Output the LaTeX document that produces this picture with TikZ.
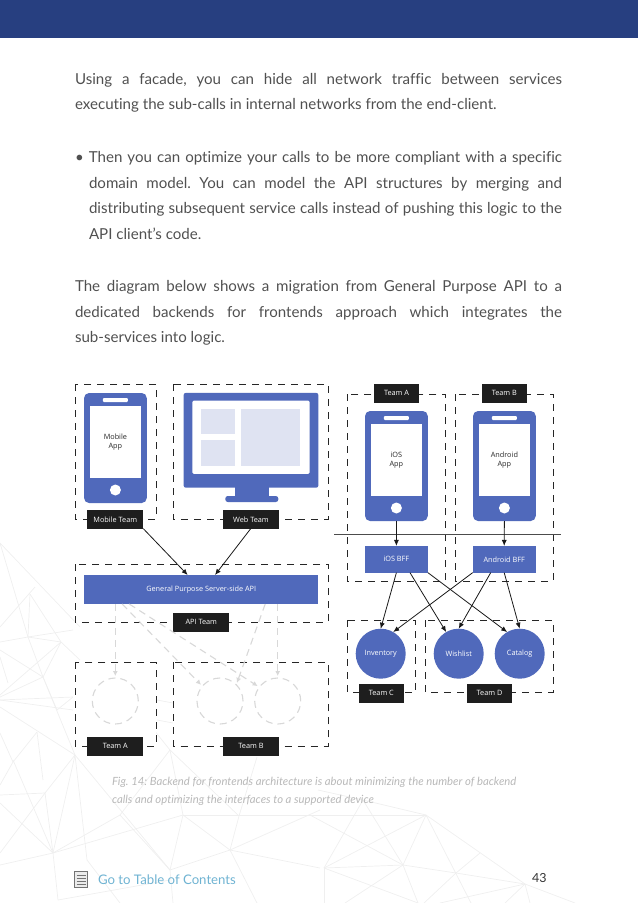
\documentclass[tikz,border=0pt]{standalone}
\usepackage{fontspec}
\usepackage{xcolor}
\setmainfont{Lato}[Ligatures={TeX,NoCommon}]
\newfontfamily\labelfont{Open Sans}
\frenchspacing
\usetikzlibrary{arrows.meta,positioning,shapes.geometric}
\definecolor{bffBlue}{HTML}{5069BB}
\definecolor{bffPanel}{HTML}{DFE3F2}
\definecolor{bffHeader}{HTML}{273F80}
\definecolor{bffTag}{HTML}{1E1E1E}
\definecolor{bffGhost}{HTML}{D8D8D8}
\definecolor{bffMesh}{HTML}{EFEFEF}
\definecolor{bffLink}{HTML}{6FB3D2}
\definecolor{bffBody}{HTML}{505050}
\tikzset{
    >=Latex,
    every node/.style={inner sep=0pt, outer sep=0pt},
    dashbox/.style={draw=black!85, fill=white, line width=1pt, dash pattern=on 7pt off 6pt},
    tagbox/.style={fill=bffTag, text=white, font=\labelfont\fontsize{7.3}{9}\selectfont, minimum height=18.7pt, minimum width=56pt},
    tagsmall/.style={tagbox, minimum width=44.4pt},
    phonebody/.style={fill=bffBlue, rounded corners=5pt, minimum width=62.7pt, minimum height=110pt},
    phonescreen/.style={fill=white, text=black!85, align=center, font=\labelfont\fontsize{7.3}{9.3}\selectfont, minimum width=50.5pt, minimum height=72pt},
    phonespeaker/.style={fill=white, rounded corners=1pt, minimum width=25pt, minimum height=4pt},
    phonebutton/.style={circle, fill=white, minimum size=11pt},
    bluebox/.style={fill=bffBlue, text=white, font=\labelfont\fontsize{7.3}{9}\selectfont},
    service/.style={circle, fill=bffBlue, text=white, font=\labelfont\fontsize{7.3}{9}\selectfont, minimum size=50pt},
    ghost/.style={circle, draw=bffGhost, line width=1.1pt, dash pattern=on 7pt off 5pt, minimum size=46pt},
    arrow/.style={-{Latex[length=6pt,width=5pt]}, line width=0.8pt, draw=black!90},
    ghostarrow/.style={-{Latex[length=5pt,width=5pt]}, line width=1.1pt, draw=bffGhost, dash pattern=on 7pt off 5pt, shorten >=2pt},
    bodytext/.style={anchor=north west, text width=487pt, align=justify, text=bffBody, font=\fontsize{15.1}{25.6}\selectfont},
    captext/.style={anchor=north west, text=black!28, align=left, font=\itshape\fontsize{11.3}{18}\selectfont}
}
\begin{document}
\begin{tikzpicture}[x=1pt,y=-1pt]
\useasboundingbox (0,0) rectangle (638,903);
% page furniture
\fill[bffHeader] (0,0) rectangle (638,38);
\foreach \ax/\ay/\bx/\by in {0/543/28/637,0/543/80/627,30/594/28/637,30/594/61/642,35/587/0/627,28/637/0/642,28/637/61/642,28/637/43/677,43/677/75/755,61/642/43/677,61/642/0/695,0/650/43/677,0/657/8/683,43/677/0/697,0/700/73/697,0/700/73/710,43/677/57/710,57/710/73/697,0/707/75/755,73/630/28/637,61/642/80/660,37/732/13/762,37/732/43/780,0/733/13/762,13/762/0/785,75/755/53/853,75/755/87/860,75/755/45/793,45/793/53/853,45/793/0/795,45/793/0/853,0/803/53/853,13/760/53/853,53/853/0/865,53/853/183/815,75/755/170/870,170/750/120/815,120/815/53/853,170/750/183/815,183/815/170/870,183/815/230/850,183/815/310/815,230/850/320/868,230/850/320/810,230/850/239/816,239/816/257/757,170/750/239/816,170/870/230/850,230/850/257/903,170/870/173/903,53/853/58/900,58/900/170/880,87/860/120/903,120/815/170/870,157/700/173/703,157/720/173/723,170/750/150/725,
363/800/426/815,363/800/324/868,363/800/403/865,318/790/363/800,426/815/403/865,426/815/525/884,310/815/426/815,310/815/403/865,324/868/426/815,324/868/403/865,403/865/456/873,456/873/525/884,426/815/471/903,403/865/418/903,403/865/345/903,324/868/418/903,456/873/480/853,456/873/424/903,525/884/575/903,525/884/440/903,525/884/505/903,525/884/530/903,324/868/324/903}{
  \draw[bffMesh, line width=0.7pt] (\ax,\ay) -- (\bx,\by);
}
\node[bodytext] (introtext) at (75,73) {Using a facade, you can hide all network traffic between services\linebreak executing the sub-calls in internal networks from the end-client.};
\node[bodytext] (bullettext) at (75,151.5) {\makebox[487pt][s]{• Then you can optimize your calls to be more compliant with a specific}};
\node[bodytext, text width=473pt] (bulletrest) at (89,177.1) {domain model. You can model the API structures by merging and\linebreak distributing subsequent service calls instead of pushing this logic to the\linebreak API client’s code.};
\node[bodytext] (migrationtext) at (75,280.5) {The diagram below shows a migration from General Purpose API to a\linebreak dedicated backends for frontends approach which integrates the\linebreak sub-services into logic.};
% left side, dashed team boxes
\draw[dashbox] (75,384) rectangle (156,519);
\draw[dashbox] (173.3,384) rectangle (328,519);
\draw[dashbox] (75,564) rectangle (328,622);
\draw[dashbox] (75,662.3) rectangle (156,746);
\draw[dashbox] (173.3,662.3) rectangle (328,746);
% right side, dashed team boxes
\draw[dashbox] (347.3,394) rectangle (445.3,581);
\draw[dashbox] (455.3,394) rectangle (553,581);
\draw[dashbox] (347.3,620) rectangle (415.3,692.3);
\draw[dashbox] (425.7,620) rectangle (553,692.3);
% phones
\foreach \name/\x/\y/\lbl in {mobile/115.4/448/{Mobile\\App},ios/396.4/466/{iOS\\App},android/504.4/466/{Android\\App}}{
  \node[phonebody] (\name) at (\x,\y) {};
  \node[phonescreen] (\name screen) at (\x,\y-6) {\lbl};
  \node[phonespeaker] (\name speaker) at (\x,\y-48) {};
  \node[phonebutton] (\name button) at (\x,\y+42) {};
}
% monitor
\node[fill=bffBlue, minimum width=33.7pt, minimum height=12pt] (monitorstand) at (251.8,491) {};
\node[fill=bffBlue, rounded corners=2.5pt, minimum width=53pt, minimum height=6pt] (monitorbase) at (251.8,499) {};
\node[fill=bffBlue, rounded corners=2pt, minimum width=134.6pt, minimum height=94.7pt] (monitor) at (251,440.3) {};
\node[fill=white, rounded corners=1.5pt, minimum width=117.4pt, minimum height=73.3pt] (monitorscreen) at (251,437.3) {};
\node[fill=bffPanel, minimum width=34.3pt, minimum height=25.3pt] (paneltop) at (218.2,421.3) {};
\node[fill=bffPanel, minimum width=34.3pt, minimum height=26pt] (panelbottom) at (218.2,453) {};
\node[fill=bffPanel, minimum width=59pt, minimum height=57.3pt] (panelwide) at (270.8,437.3) {};
% blocks
\node[bluebox, minimum width=234.3pt, minimum height=29pt] (api) at (201.2,589.5) {General Purpose Server-side API};
\node[bluebox, minimum width=63pt, minimum height=26.7pt] (iosbff) at (396.4,559.3) {iOS BFF};
\node[bluebox, minimum width=63pt, minimum height=26.7pt] (androidbff) at (504.2,559.3) {Android BFF};
\node[service] (inventory) at (380.7,653.7) {Inventory};
\node[service] (wishlist) at (458.7,653.7) {Wishlist};
\node[service] (catalog) at (519.7,653.7) {Catalog};
\node[ghost] (ghosta) at (115.3,701) {};
\node[ghost] (ghostb) at (220,701) {};
\node[ghost] (ghostc) at (277.7,701) {};
% team tags
\node[tagbox] (mobileteam) at (115.3,519.3) {Mobile Team};
\node[tagbox] (webteam) at (251,519.3) {Web Team};
\node[tagbox] (apiteam) at (201.3,622.3) {API Team};
\node[tagbox] (teama) at (115.3,746.3) {Team A};
\node[tagbox] (teamb) at (251,746.3) {Team B};
\node[tagsmall] (iosteam) at (396.5,393.3) {Team A};
\node[tagsmall] (androidteam) at (504.3,393.3) {Team B};
\node[tagsmall] (teamc) at (381.3,693.3) {Team C};
\node[tagsmall] (teamd) at (489.5,693.3) {Team D};
% divider
\coordinate (dividerleft) at (334.3,534);
\coordinate (dividerright) at (560.7,534);
\draw[line width=0.9pt, black!70] (dividerleft) -- (dividerright);
% connectors
\draw[arrow] (mobileteam.south east) -- ([xshift=-13.5pt]api.north);
\draw[arrow] ([xshift=-0.3pt]webteam.south) -- ([xshift=13.8pt]api.north);
\draw[arrow] (ios.south) -- (iosbff.north);
\draw[arrow] (android.south) -- (androidbff.north);
\draw[arrow] (iosbff.south) -- (inventory.north);
\draw[arrow] ([xshift=13.6pt]iosbff.south) -- (wishlist.120);
\draw[arrow] (iosbff.south east) -- (catalog.120);
\draw[arrow] (androidbff.south west) -- (inventory.60);
\draw[arrow] ([xshift=-13.5pt]androidbff.south) -- (wishlist.north);
\draw[arrow] (androidbff.south) -- (catalog.north);
\draw[ghostarrow] ([xshift=-85.9pt]api.south) -- (ghosta.north);
\draw[ghostarrow] ([xshift=-79pt]api.south) -- (ghostb.140);
\draw[ghostarrow] ([xshift=-72pt]api.south) -- (ghostc.143);
\draw[ghostarrow] ([xshift=64pt]api.south) -- (ghostb.45);
\draw[ghostarrow] ([xshift=76.5pt]api.south) -- (ghostc.north);
% caption and footer
\node[captext] (caption) at (112,777) {Fig. 14: Backend for frontends architecture is about minimizing the number of backend\\calls and optimizing the interfaces to a supported device};
\node[draw=black!55, fill=black!8, line width=0.8pt, minimum width=13pt, minimum height=16pt] (tocicon) at (81,879.5) {};
\foreach \y in {875,878,881,884}{
  \draw[black!55, line width=0.8pt] (76.5,\y) -- (85.5,\y);
}
\node[anchor=west, text=bffLink, font=\fontsize{13.2}{16}\selectfont] (toclink) at (98,880) {Go to Table of Contents};
\node[anchor=west, text=black!80, font=\fontsize{12.5}{15}\selectfont] (pagenum) at (532,878) {43};
\end{tikzpicture}
\end{document}
